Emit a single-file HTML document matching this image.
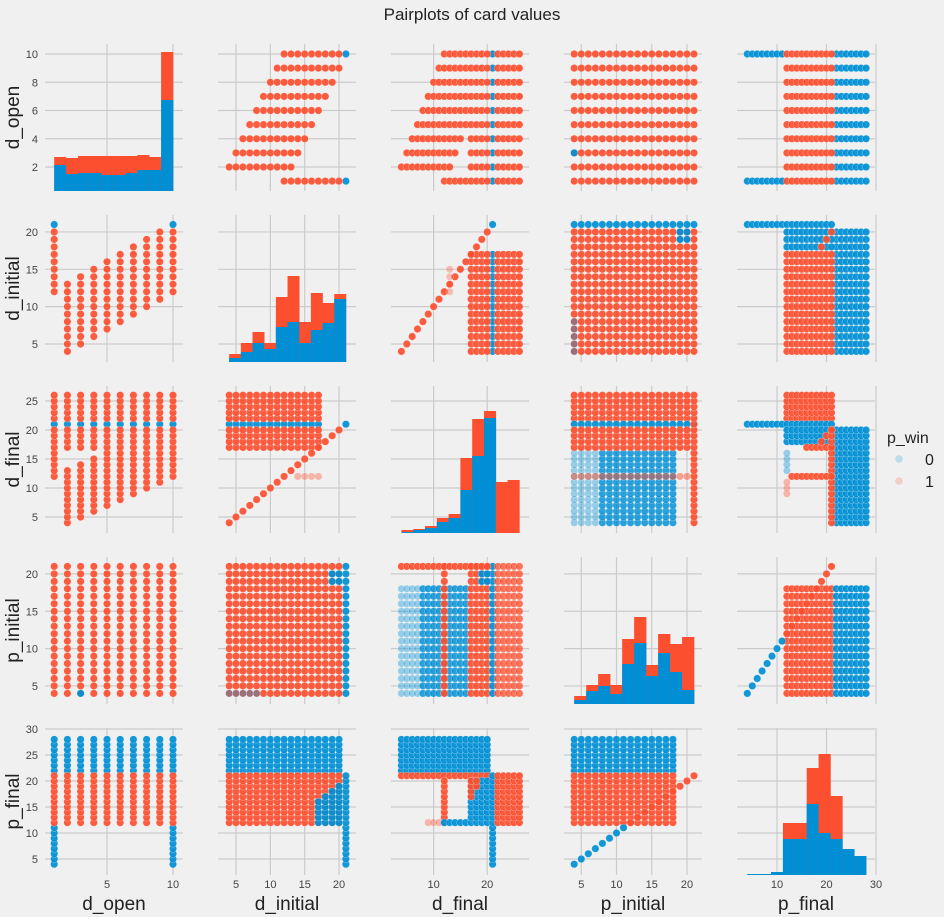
<!DOCTYPE html>
<html><head><meta charset="utf-8"><style>
html,body{margin:0;padding:0;background:#f0f0f0;}
svg{display:block;font-family:"Liberation Sans",sans-serif;}
</style></head><body>
<svg id="fig" width="944" height="917" viewBox="0 0 944 917" xmlns="http://www.w3.org/2000/svg">
<rect width="944" height="917" fill="#f0f0f0"/>
<text x="472" y="20" text-anchor="middle" font-size="17" fill="#222">Pairplots of card values</text>
<g id="grid"></g><g id="marks"></g><g id="labels"></g>
<g>
<text x="887" y="443" font-size="16" fill="#222">p_win</text>
<circle cx="899" cy="459" r="3.8" fill="#008fd5" fill-opacity="0.22"/>
<text x="925" y="465" font-size="16" fill="#222">0</text>
<circle cx="899" cy="481" r="3.8" fill="#fc4f30" fill-opacity="0.22"/>
<text x="925" y="487" font-size="16" fill="#222">1</text>
</g>
</svg>
<script>
const varNames = ["d_open","d_initial","d_final","p_initial","p_final"];
const tickX = [[5,10],[5,10,15,20],[10,20],[5,10,15,20],[10,20,30]];
const tickY = [[2,4,6,8,10],[5,10,15,20],[5,10,15,20,25],[5,10,15,20],[5,10,15,20,25,30]];
const histRange = [[1,10],[4,21],[4,26],[4,21],[4,28]];
const histBlue0 = [26,17,18,18,16,16,18,21,21,91];
const histRed0  = [34,33,35,35,35,35,35,36,34,139];
const histBlue1 = [4,10,19,13,35,40,19,32,39,63];
const histRed1  = [8,19,30,19,65,86,40,69,59,68];
const histBlue2 = [1,3,5,11,15,43,77,115,0,0];
const histRed2  = [3,4,7,15,19,75,114,122,51,53];
const histBlue3 = [4,13,18,10,40,61,28,51,32,14];
const histRed3  = [8,19,30,19,65,87,39,70,60,67];
const histBlue4 = [1,1,3,36,36,71,42,36,26,19];
const histRed4  = [1,1,3,52,52,107,121,79,26,19];
// scatter blocks: [xFrom,xTo,yFrom,yTo,class(0 blue/1 red),alpha,diagonal]
const r0c1 = [[21,21,1,1,0],[21,21,10,10,0],[12,20,1,1,1],[4,13,2,2,1],[5,14,3,3,1],[6,15,4,4,1],[7,16,5,5,1],[8,17,6,6,1],[9,18,7,7,1],[10,19,8,8,1],[11,20,9,9,1],[12,20,10,10,1]];
const r1c0 = [[1,1,21,21,0],[10,10,21,21,0],[1,1,12,20,1],[2,2,4,13,1],[3,3,5,14,1],[4,4,6,15,1],[5,5,7,16,1],[6,6,8,17,1],[7,7,9,18,1],[8,8,10,19,1],[9,9,11,20,1],[10,10,12,20,1]];
const r0c2 = [[21,21,1,10,0],[12,20,1,1,1],[22,26,1,1,1],[4,13,2,2,1],[17,20,2,2,1],[22,26,2,2,1],[5,14,3,3,1],[17,20,3,3,1],[22,26,3,3,1],[6,15,4,4,1],[17,20,4,4,1],[22,26,4,4,1],[7,20,5,5,1],[22,26,5,5,1],[8,20,6,6,1],[22,26,6,6,1],[9,20,7,7,1],[22,26,7,7,1],[10,20,8,8,1],[22,26,8,8,1],[11,20,9,9,1],[22,26,9,9,1],[12,20,10,10,1],[22,26,10,10,1]];
const r2c0 = [[1,10,21,21,0],[1,1,12,20,1],[1,1,22,26,1],[2,2,4,13,1],[2,2,17,20,1],[2,2,22,26,1],[3,3,5,14,1],[3,3,17,20,1],[3,3,22,26,1],[4,4,6,15,1],[4,4,17,20,1],[4,4,22,26,1],[5,5,7,20,1],[5,5,22,26,1],[6,6,8,20,1],[6,6,22,26,1],[7,7,9,20,1],[7,7,22,26,1],[8,8,10,20,1],[8,8,22,26,1],[9,9,11,20,1],[9,9,22,26,1],[10,10,12,20,1],[10,10,22,26,1]];
const r0c3 = [[4,21,1,10,1],[4,4,3,3,0]];
const r3c0 = [[1,10,4,21,1],[3,3,4,4,0]];
const r0c4 = [[4,11,1,1,0],[4,11,10,10,0],[22,28,1,10,0],[12,21,1,10,1]];
const r4c0 = [[1,1,4,11,0],[10,10,4,11,0],[1,10,22,28,0],[1,10,12,21,1]];
const r1c2 = [[21,21,4,17,0],[21,21,21,21,0],[17,20,4,17,1],[22,26,4,17,1],[4,20,4,20,1,1,1],[13,13,12,15,1,0.35]];
const r2c1 = [[4,17,21,21,0],[4,17,22,26,1],[4,17,17,20,1],[4,20,4,20,1,1,1],[21,21,21,21,0],[14,17,12,12,1,0.4]];
const r1c3 = [[4,21,21,21,0],[4,21,4,20,1],[19,20,19,20,0],[4,4,4,8,0,0.4]];
const r3c1 = [[21,21,4,21,0],[4,20,4,21,1],[19,20,19,20,0],[4,8,4,4,0,0.4]];
const r1c4 = [[4,21,21,21,0],[22,28,4,20,0],[12,21,18,20,0],[12,21,4,17,1],[19,21,18,20,1,1,1]];
const r4c1 = [[4,20,22,28,0],[21,21,4,21,0],[4,20,12,21,1],[17,17,12,16,0],[18,18,12,17,0],[19,19,12,18,0],[20,20,12,19,0]];
const r2c3 = [[4,7,4,16,0,0.4],[8,18,4,16,0,0.9],[4,20,22,26,1],[4,21,21,21,0],[4,20,17,20,1],[21,21,4,26,1],[4,20,12,12,1,0.55]];
const r3c2 = [[4,7,4,18,0,0.4],[8,16,4,18,0,0.9],[12,12,4,21,1],[17,20,4,21,1],[21,21,4,21,0],[22,26,4,21,1,0.85],[4,20,21,21,1],[19,20,19,20,0]];
const r2c4 = [[12,21,22,26,1],[4,21,21,21,0],[12,20,18,20,0],[22,28,4,20,0],[16,21,17,17,1],[19,21,18,20,1,1,1],[21,21,4,20,1],[13,21,12,12,1],[12,12,13,16,0,0.4],[12,12,9,11,1,0.4]];
const r4c2 = [[4,20,22,28,0],[4,20,21,21,1],[12,12,12,20,1],[9,11,12,12,1,0.4],[12,16,12,12,0],[17,20,12,20,0],[17,17,17,20,1],[18,18,19,20,1],[21,21,4,21,0],[22,26,12,21,1]];
const r4c3 = [[4,18,22,28,0],[4,18,12,21,1],[4,11,4,11,0,1,1],[12,21,12,21,1,1,1]];
const r3c4 = [[12,21,4,18,1],[22,28,4,18,0],[4,11,4,11,0,1,1],[12,21,12,21,1,1,1]];

const NS="http://www.w3.org/2000/svg";
const COLS=["#008fd5","#fc4f30"];
const AX0=[45,218,391,564,737], AY0=[44,215,386,557,728], AW=138, AH=147;
const fx=[v=>41+13.2*v, v=>201.7+6.867*v, v=>380+5.36*v, v=>546+7.05*v, v=>727.5+4.95*v];
const fy=[v=>195.25-14.125*v, v=>381.3-7.467*v, v=>546-5.8*v, v=>723.3-7.47*v, v=>885-5.2*v];
const scat={"0,1":r0c1,"1,0":r1c0,"0,2":r0c2,"2,0":r2c0,"0,3":r0c3,"3,0":r3c0,"0,4":r0c4,"4,0":r4c0,
"1,2":r1c2,"2,1":r2c1,"1,3":r1c3,"3,1":r3c1,"1,4":r1c4,"4,1":r4c1,"2,3":r2c3,"3,2":r3c2,"2,4":r2c4,"4,2":r4c2,"4,3":r4c3,"3,4":r3c4};
const hB=[histBlue0,histBlue1,histBlue2,histBlue3,histBlue4], hR=[histRed0,histRed1,histRed2,histRed3,histRed4];
const grid=document.getElementById('grid'), marks=document.getElementById('marks'), labels=document.getElementById('labels');
function mk(tag,attrs,parent){const e=document.createElementNS(NS,tag);for(const k in attrs)e.setAttribute(k,attrs[k]);parent.appendChild(e);return e;}
for(let r=0;r<5;r++)for(let c=0;c<5;c++){
  const g=mk('g',{},grid);
  
  
  tickX[c].forEach(t=>{const x=fx[c](t);mk('line',{x1:x,x2:x,y1:AY0[r],y2:AY0[r]+AH,stroke:'#cbcbcb','stroke-width':1.2},g);});
  tickY[r].forEach(t=>{const y=fy[r](t);mk('line',{x1:AX0[c],x2:AX0[c]+AW,y1:y,y2:y,stroke:'#cbcbcb','stroke-width':1.2},g);});
}
// histograms
for(let i=0;i<5;i++){
  const g=mk('g',{},marks);
  
  
  const [lo,hi]=histRange[i], n=hB[i].length, bw=(hi-lo)/n, base=AY0[i]+AH;
  for(let k=0;k<n;k++){
    const x1=fx[i](lo+k*bw), x2=fx[i](lo+(k+1)*bw);
    const tot=hR[i][k], b=hB[i][k];
    const red=mk('rect',{x:x1,y:base-tot,width:x2-x1+0.3,height:tot,fill:COLS[1]},g);
    
    
    if(b>0){const bl=mk('rect',{x:x1,y:base-b,width:x2-x1+0.3,height:b,fill:COLS[0]},g);
    
    }
  }
}
// scatters
for(const key in scat){
  const [r,c]=key.split(',').map(Number);
  const g=mk('g',{},marks);
  
  
  scat[key].forEach(b=>{
    const [x0,x1,y0,y1,cls,al,diag]=b; const a=al===undefined?1:al;
    const pts=[];
    if(diag){for(let v=0;v<=x1-x0;v++)pts.push([x0+v,y0+v]);}
    else{for(let x=x0;x<=x1;x++)for(let y=y0;y<=y1;y++)pts.push([x,y]);}
    pts.forEach(p=>{const ci=mk('circle',{cx:fx[c](p[0]).toFixed(1),cy:fy[r](p[1]).toFixed(1),r:3.7,fill:COLS[cls],'fill-opacity':0.92*a,stroke:'#fff','stroke-width':0.4,'stroke-opacity':0.6},g);
      
      });
  });
}
// tick labels and axis labels
for(let c=0;c<5;c++){
  tickX[c].forEach(t=>{const e=mk('text',{x:fx[c](t),y:888,'text-anchor':'middle','font-size':11,fill:'#444'},labels);e.textContent=t;
    
    });
  const l=mk('text',{x:AX0[c]+AW/2,y:910,'text-anchor':'middle','font-size':19,fill:'#222'},labels);l.textContent=varNames[c];
  
  
}
for(let r=0;r<5;r++){
  tickY[r].forEach(t=>{const e=mk('text',{x:38,y:fy[r](t)+4,'text-anchor':'end','font-size':11,fill:'#444'},labels);e.textContent=t;
    
    });
  const cy=AY0[r]+AH/2;
  const l=mk('text',{x:0,y:0,transform:'translate(19,'+cy+') rotate(-90)','text-anchor':'middle','font-size':19,fill:'#222'},labels);l.textContent=varNames[r];
  
  
}
</script>
</body></html>
